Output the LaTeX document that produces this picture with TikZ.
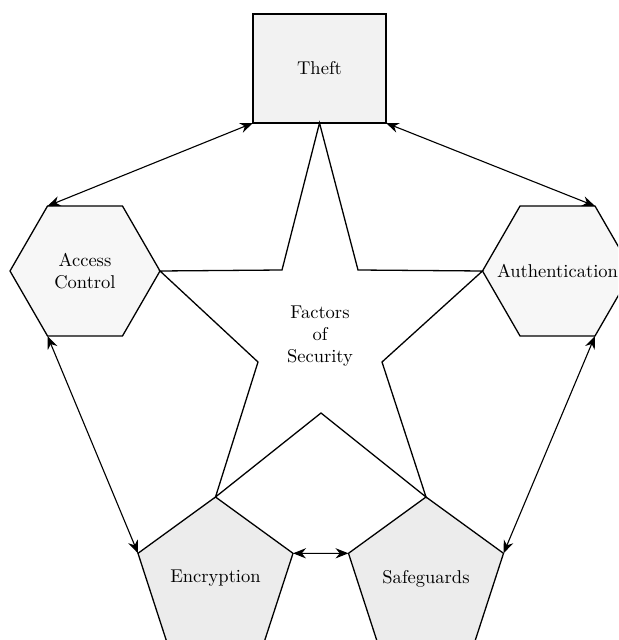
\documentclass[tikz,border=0pt]{standalone}
\usepackage{xcolor}
\usepackage{tikz}
\usetikzlibrary{shapes.geometric, arrows.meta, positioning, calc}

\begin{document}
\begin{tikzpicture}[x=0.54pt, y=-0.54pt,
    hexbox/.style={regular polygon, regular polygon sides=6, draw, line width=0.7pt, fill=gray!6, minimum size=150*0.54pt, inner sep=0pt, outer sep=0pt, align=center},
    pentbox/.style={regular polygon, regular polygon sides=5, draw, line width=0.7pt, fill=gray!15, minimum size=163*0.54pt, inner sep=0pt, outer sep=0pt},
    link/.style={{Stealth[length=7pt,width=5.5pt]}-{Stealth[length=7pt,width=5.5pt]}, line width=0.6pt}]
    \clip (0,0) rectangle (618,640);
    \node[draw, line width=1.3pt, fill=gray!10, minimum width=133*0.54pt, minimum height=109*0.54pt, outer sep=0pt] (theft) at (319.5,68.5) {Theft};
    \node[hexbox] (access) at (85,271) {Access\\Control};
    \node[hexbox] (auth) at (557.5,271) {\makebox[0pt]{Authentication}};
    \node[pentbox] (encr) at (215.5,578.5) {Encryption};
    \node[pentbox] (safe) at (426,578.5) {Safeguards};
    \coordinate (s1) at (358,270);
    \coordinate (s2) at (382,362);
    \coordinate (s3) at (321,413);
    \coordinate (s4) at (258,362);
    \coordinate (s5) at (282,270);
    \draw[line width=0.7pt] (theft.south) -- (s1) -- (auth.180) -- (s2) -- (safe.90) -- (s3) -- (encr.90) -- (s4) -- (access.0) -- (s5) -- cycle;
    \node[align=center] (factors) at (320,336) {Factors\\of\\Security};
    \draw[link] (theft.south west) -- (access.120);
    \draw[link] (theft.south east) -- (auth.60);
    \draw[link] (access.240) -- (encr.162);
    \draw[link] (auth.300) -- (safe.18);
    \draw[link] (encr.18) -- (safe.162);
\end{tikzpicture}
\end{document}
